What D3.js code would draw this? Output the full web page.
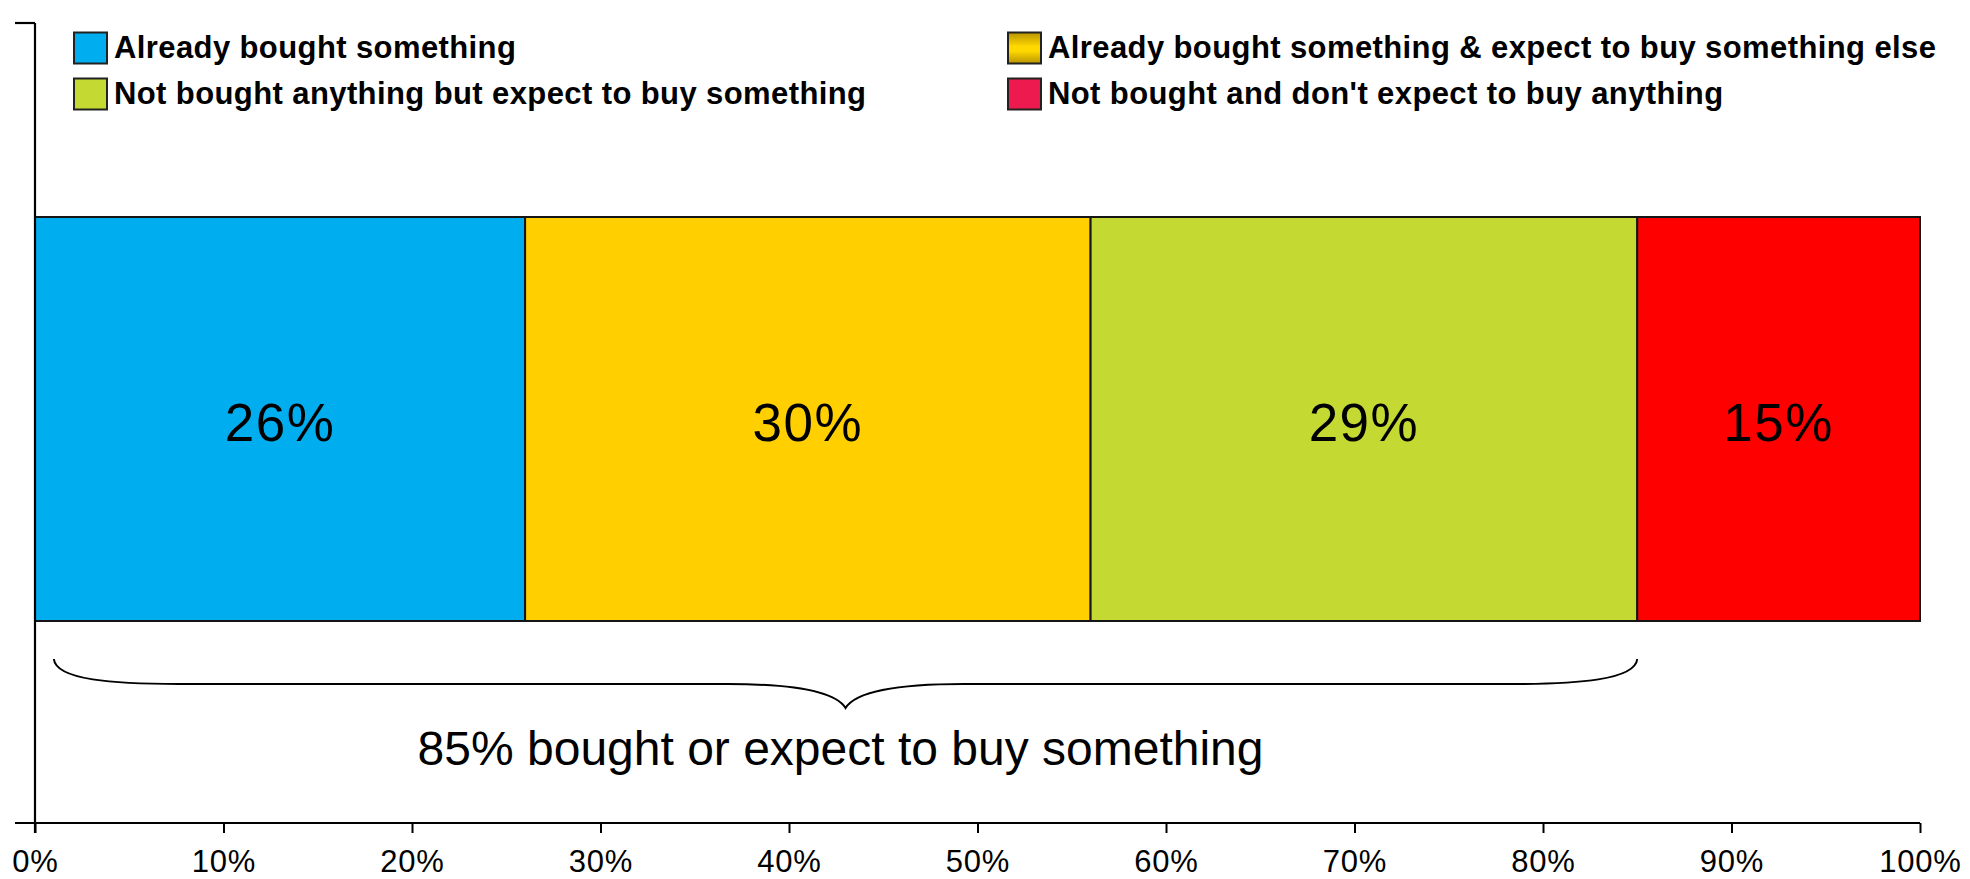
<!DOCTYPE html>
<html>
<head>
<meta charset="utf-8">
<script src="https://cdn.jsdelivr.net/npm/d3@7"></script>
<style>
  html, body { margin: 0; padding: 0; background: #ffffff; }
  svg { display: block; }
  text { font-family: "Liberation Sans", Arial, sans-serif; fill: #000; }
</style>
</head>
<body>
<svg id="chart" width="1970" height="879"></svg>
<script>
// Purchase status shares (percent of respondents)
const categories = [
  "Already bought something",
  "Already bought something & expect to buy something else",
  "Not bought anything but expect to buy something",
  "Not bought and don't expect to buy anything"
];
const values = [26, 30, 29, 15];
const barColors = ["#00ADEF", "#FFCF00", "#C4D932", "#FF0000"];
const legendColors = ["#00ADEF", "#FFD200", "#C4D932", "#EC1A4F"];
const tickValues = [0, 10, 20, 30, 40, 50, 60, 70, 80, 90, 100];
const braceLabel = "bought or expect to buy something";
const rowName = ["Total"];

const W = 1970, H = 879;
const svg = d3.select("#chart");

const x = d3.scaleLinear().domain([0, 100]).range([35, 1920]);
const y = d3.scaleBand().domain(rowName).range([15, 823]).padding(1 / 3);
const axisTop = 23, axisBottom = 823;

// stacked segments
let acc = 0;
const segs = values.map((v, i) => {
  const s = { name: categories[i], v, x0: acc, x1: acc + v, color: barColors[i] };
  acc += v;
  return s;
});

// defs: gradient for the gold legend swatch
const defs = svg.append("defs");
const g1 = defs.append("linearGradient").attr("id", "goldGrad")
  .attr("x1", 0).attr("y1", 0).attr("x2", 0).attr("y2", 1);
g1.append("stop").attr("offset", "0%").attr("stop-color", "#B89400");
g1.append("stop").attr("offset", "45%").attr("stop-color", "#FFD800");
g1.append("stop").attr("offset", "60%").attr("stop-color", "#FFD800");
g1.append("stop").attr("offset", "100%").attr("stop-color", "#B89400");

// bars
const bars = svg.append("g");
bars.selectAll("rect").data(segs).enter().append("rect")
  .attr("x", d => x(d.x0))
  .attr("y", y("Total"))
  .attr("width", d => x(d.x1) - x(d.x0))
  .attr("height", y.bandwidth())
  .attr("fill", d => d.color)
  .attr("stroke", "#151515")
  .attr("stroke-width", 2);

bars.selectAll("text").data(segs).enter().append("text")
  .attr("x", d => x((d.x0 + d.x1) / 2))
  .attr("y", y("Total") + y.bandwidth() / 2 + 22)
  .attr("text-anchor", "middle")
  .attr("font-size", 53)
  .attr("letter-spacing", 1.5)
  .text(d => d.v + "%");

// x axis
const xAxis = d3.axisBottom(x)
  .tickValues(tickValues)
  .tickSize(10)
  .tickPadding(10)
  .tickFormat(d => d + "%");
const gx = svg.append("g").attr("transform", `translate(0,${axisBottom})`).call(xAxis);
gx.select(".domain").remove();
gx.selectAll(".tick line").attr("stroke", "#000").attr("stroke-width", 2);
gx.selectAll(".tick text")
  .attr("y", 49)
  .attr("dy", null)
  .attr("font-size", 31)
  .attr("letter-spacing", 0.8)
  .attr("font-family", "'Liberation Sans', Arial, sans-serif")
  .attr("fill", "#000");

// axis lines (vertical category axis with outer ticks)
const axes = svg.append("g").attr("stroke", "#000").attr("stroke-width", 2.2).attr("fill", "none");
axes.append("line").attr("x1", 15).attr("x2", x(100)).attr("y1", axisBottom).attr("y2", axisBottom);
axes.append("line").attr("x1", x(0)).attr("x2", x(0)).attr("y1", axisTop).attr("y2", axisBottom + 10);
axes.append("line").attr("x1", 15).attr("x2", x(0)).attr("y1", axisTop).attr("y2", axisTop);

// curly brace spanning the first three segments
const braceEnd = values[0] + values[1] + values[2];
const bx0 = x(1), bx1 = x(braceEnd);
const bm = (bx0 + bx1) / 2;
const byTop = 659, byMid = 684, byTip = 708;
const p = d3.path();
p.moveTo(bx0, byTop);
p.bezierCurveTo(bx0 + 2, byMid - 4, bx0 + 60, byMid, bx0 + 125, byMid);
p.lineTo(bm - 118, byMid);
p.bezierCurveTo(bm - 50, byMid, bm - 10, byMid + 8, bm, byTip);
p.bezierCurveTo(bm + 10, byMid + 8, bm + 50, byMid, bm + 118, byMid);
p.lineTo(bx1 - 125, byMid);
p.bezierCurveTo(bx1 - 60, byMid, bx1 - 2, byMid - 4, bx1, byTop);
svg.append("path").attr("d", p.toString())
  .attr("fill", "none").attr("stroke", "#000").attr("stroke-width", 2);

svg.append("text")
  .attr("x", bm - 5)
  .attr("y", 765)
  .attr("text-anchor", "middle")
  .attr("font-size", 48)
  .text(braceEnd + "% " + braceLabel);

// legend: two columns, two rows
const legendOrder = [0, 1, 2, 3];
const colX = [74, 1008];
const rowY = [32.5, 78.5];
const lg = svg.append("g");
legendOrder.forEach((idx, k) => {
  const cx = colX[k % 2], cy = rowY[Math.floor(k / 2)];
  lg.append("rect")
    .attr("x", cx).attr("y", cy).attr("width", 33).attr("height", 31)
    .attr("fill", idx === 1 ? "url(#goldGrad)" : legendColors[idx])
    .attr("stroke", "#222").attr("stroke-width", 2);
  lg.append("text")
    .attr("x", cx + 40).attr("y", cy + 25)
    .attr("font-size", 31).attr("font-weight", "bold")
    .attr("letter-spacing", 0.4)
    .text(categories[idx]);
});
</script>
</body>
</html>
